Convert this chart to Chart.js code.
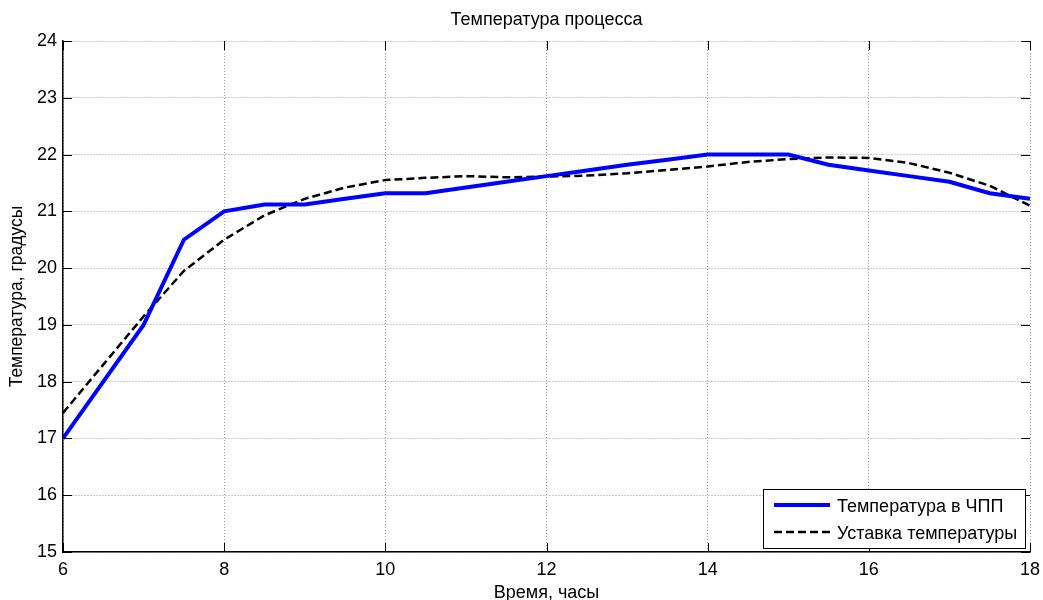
<!DOCTYPE html>
<html lang="ru">
  <head>
    <meta charset="UTF-8" />
    <title>Температура процесса</title>
    <script src="https://cdn.jsdelivr.net/npm/chart.js"></script>
    <style>
      body {
        margin: 0;
        background: #ffffff;
      }
      .chart-box {
        width: 1043px;
        height: 600px;
      }
    </style>
  </head>
  <body>
    <div class="chart-box">
      <canvas id="tempChart"></canvas>
    </div>
    <script>
      // время, часы
      const hours = [6, 6.5, 7, 7.5, 8, 8.5, 9, 9.5, 10, 10.5, 11, 11.5, 12,
        12.5, 13, 13.5, 14, 14.5, 15, 15.5, 16, 16.5, 17, 17.5, 18];
      // температура в ЧПП
      const tempActual = [17.0, 18.0, 19.0, 20.5, 21.0, 21.12, 21.12, 21.22, 21.32,
        21.32, 21.42, 21.52, 21.62, 21.72, 21.82, 21.91, 22.0, 22.0, 22.0, 21.82,
        21.72, 21.62, 21.52, 21.32, 21.22];
      // уставка температуры
      const tempSetpoint = [17.45, 18.3, 19.15, 19.95, 20.5, 20.93, 21.22, 21.42,
        21.55, 21.59, 21.62, 21.6, 21.61, 21.63, 21.67, 21.73, 21.79, 21.87, 21.92,
        21.95, 21.94, 21.85, 21.68, 21.45, 21.1];
      const xTicks = [6, 8, 10, 12, 14, 16, 18];
      const yTicks = [15, 16, 17, 18, 19, 20, 21, 22, 23, 24];

      const font = "'Liberation Sans', Arial, sans-serif";

      function toPoints(ys) {
        return hours.map((h, i) => ({ x: h, y: ys[i] }));
      }

      // короткие засечки внутрь области графика со всех сторон
      const innerTicks = {
        id: "innerTicks",
        afterDraw(chart) {
          const { ctx, chartArea: a, scales } = chart;
          ctx.save();
          ctx.strokeStyle = "#000";
          ctx.lineWidth = 1;
          ctx.beginPath();
          xTicks.forEach((v) => {
            const px = Math.round(scales.x.getPixelForValue(v)) + 0.5;
            ctx.moveTo(px, a.bottom);
            ctx.lineTo(px, a.bottom - 9);
            ctx.moveTo(px, a.top);
            ctx.lineTo(px, a.top + 9);
          });
          yTicks.forEach((v) => {
            const py = Math.round(scales.y.getPixelForValue(v)) + 0.5;
            ctx.moveTo(a.left, py);
            ctx.lineTo(a.left + 9, py);
            ctx.moveTo(a.right, py);
            ctx.lineTo(a.right - 9, py);
          });
          ctx.stroke();
          ctx.restore();
        },
      };

      // легенда в правом нижнем углу
      const boxLegend = {
        id: "boxLegend",
        afterDraw(chart) {
          const { ctx, chartArea: a } = chart;
          const w = 262, h = 59;
          const x0 = a.right - 267, y0 = a.bottom - 63;
          ctx.save();
          ctx.fillStyle = "#fff";
          ctx.fillRect(x0, y0, w, h);
          ctx.strokeStyle = "#000";
          ctx.lineWidth = 1;
          ctx.strokeRect(x0 + 0.5, y0 + 0.5, w, h);
          ctx.font = "18px " + font;
          ctx.textBaseline = "middle";
          chart.data.datasets.forEach((ds, i) => {
            const ly = y0 + 16 + i * 27;
            ctx.beginPath();
            ctx.strokeStyle = ds.borderColor;
            ctx.lineWidth = ds.borderWidth;
            ctx.setLineDash(ds.borderDash || []);
            ctx.moveTo(x0 + 11, ly);
            ctx.lineTo(x0 + 67, ly);
            ctx.stroke();
            ctx.setLineDash([]);
            ctx.fillStyle = "#000";
            ctx.fillText(ds.label, x0 + 74, ly + 2);
          });
          ctx.restore();
        },
      };

      const grid = {
        color: "rgba(0,0,0,0.4)",
        drawTicks: false,
      };
      const border = { color: "#000", width: 1.5, dash: [1, 2] };

      new Chart(document.getElementById("tempChart"), {
        type: "line",
        data: {
          datasets: [
            {
              label: "Температура в ЧПП",
              data: toPoints(tempActual),
              borderColor: "#0000ff",
              borderWidth: 4,
              pointRadius: 0,
              tension: 0,
            },
            {
              label: "Уставка температуры",
              data: toPoints(tempSetpoint),
              borderColor: "#000000",
              borderWidth: 2.5,
              borderDash: [8, 4],
              pointRadius: 0,
              tension: 0,
            },
          ],
        },
        options: {
          responsive: true,
          maintainAspectRatio: false,
          animation: false,
          layout: { padding: { left: 0, right: 13, top: 0, bottom: 0 } },
          plugins: {
            legend: { display: false },
            tooltip: { enabled: false },
            title: {
              display: true,
              fullSize: false,
              text: "Температура процесса",
              color: "#000",
              font: { family: font, size: 18, weight: "normal" },
              padding: { top: 9, bottom: 10.4 },
            },
          },
          scales: {
            x: {
              type: "linear",
              min: 6,
              max: 18,
              afterFit: (s) => {
                s.height = 48;
                s.paddingLeft = 0;
                s.paddingRight = 0;
              },
              afterBuildTicks: (s) => { s.ticks = xTicks.map((v) => ({ value: v })); },
              grid: grid,
              border: border,
              ticks: {
                color: "#000",
                padding: 7,
                maxRotation: 0,
                font: { family: font, size: 18 },
              },
              title: {
                display: true,
                text: "Время, часы",
                color: "#000",
                font: { family: font, size: 18, lineHeight: 0.8 },
                padding: { top: 0, bottom: 0 },
              },
            },
            y: {
              min: 15,
              max: 24,
              afterFit: (s) => {
                s.width = 63;
                s.paddingTop = 0;
                s.paddingBottom = 0;
              },
              afterBuildTicks: (s) => { s.ticks = yTicks.map((v) => ({ value: v })); },
              grid: grid,
              border: border,
              ticks: {
                color: "#000",
                padding: 6,
                font: { family: font, size: 18 },
              },
              title: {
                display: true,
                text: "Температура, градусы",
                color: "#000",
                font: { family: font, size: 17.5 },
                padding: { top: 7, bottom: 0 },
              },
            },
          },
        },
        plugins: [innerTicks, boxLegend],
      });
    </script>
  </body>
</html>
